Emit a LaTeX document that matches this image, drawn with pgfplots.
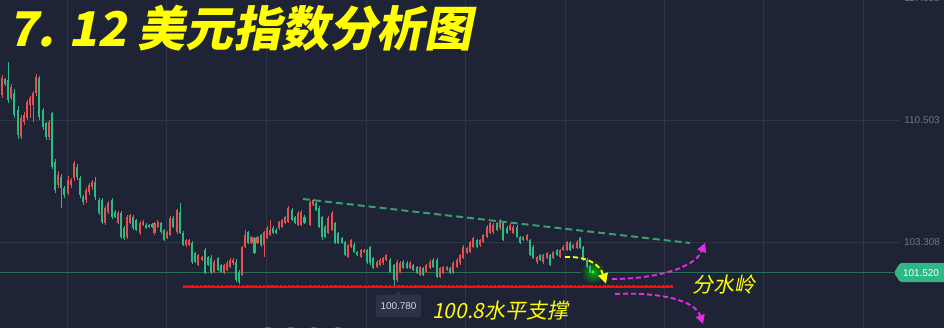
\documentclass[border=0pt]{standalone}
\usepackage{pgfplots}
\pgfplotsset{compat=1.18}
\usepackage{pgfplotstable}
\usetikzlibrary{arrows.meta}
\usepackage{fontspec}
\setmainfont{Liberation Sans}
\newfontfamily\cjk[FakeSlant=0.2]{Noto Sans CJK SC}
\definecolor{bg}{HTML}{1E2436}
\definecolor{gridc}{HTML}{2E3547}
\definecolor{cgreen}{HTML}{2DB984}
\definecolor{cred}{HTML}{E2524E}
\definecolor{trend}{HTML}{38A070}
\definecolor{pline}{HTML}{2A6E5A}
\definecolor{tag}{HTML}{2EB884}
\definecolor{lbl}{HTML}{6E7687}
\definecolor{boxc}{HTML}{2B3348}
\definecolor{magc}{HTML}{EB28EB}
\definecolor{tyel}{HTML}{FFFF00}
\definecolor{supred}{HTML}{FF0A0A}

\pgfplotstableread{
x o h l c
2 111.97 113.15 111.79 112.97
11 111.79 112.60 111.70 112.44
21 109.50 110.80 109.40 110.62
24 110.38 110.97 110.20 110.80
27 110.62 111.70 110.50 111.56
30 111.38 111.90 110.62 111.79
33 111.38 112.20 110.38 112.09
36 112.09 113.20 111.90 113.03
49 109.50 110.50 109.30 110.38
58 106.68 107.50 106.50 107.27
68 106.21 107.20 106.10 106.97
71 106.68 107.10 106.50 106.97
74 107.09 108.10 106.90 107.97
86 105.80 106.50 105.60 106.38
89 106.27 106.80 106.10 106.68
92 106.56 107.00 106.40 106.85
105 104.44 105.45 104.33 105.33
108 105.09 105.75 105.00 105.62
118 104.44 105.12 104.36 105.03
127 103.62 104.90 103.52 104.80
130 104.44 105.00 104.36 104.91
140 103.86 104.55 103.76 104.44
143 104.33 104.62 104.25 104.50
154.5 103.86 104.52 103.76 104.44
157.8 104.21 104.60 104.12 104.50
167 103.56 104.00 103.48 103.91
170 103.74 104.84 103.65 104.74
177 103.91 105.27 103.82 105.21
186 103.15 103.52 103.06 103.44
189 103.15 103.50 103.08 103.44
198 101.97 102.64 101.90 102.56
202 102.27 102.52 102.20 102.44
214 101.56 102.24 101.48 102.15
224 101.50 102.06 101.42 101.97
227 101.68 102.18 101.60 102.09
230 101.86 102.36 101.78 102.27
233 102.09 102.36 102.00 102.27
242 101.38 103.10 101.30 103.03
245 103.03 104.03 102.95 103.74
251.3 103.27 103.70 103.20 103.62
257.6 103.27 103.70 103.18 103.62
264 103.15 104.00 102.44 103.91
267 103.56 104.24 103.48 104.15
270 103.74 104.62 103.66 104.03
279 104.15 104.58 104.06 104.50
282 104.21 104.70 104.12 104.62
285 104.44 104.88 104.36 104.80
288 104.50 105.42 104.42 105.33
298 104.33 105.12 104.24 105.03
301 104.33 105.18 104.24 105.09
310 104.33 105.76 104.24 105.68
313 105.50 105.88 105.42 105.80
328 103.86 104.84 103.78 104.74
332 104.03 105.12 103.95 105.03
348 102.44 103.22 102.36 103.15
351 103.03 103.52 102.96 103.44
361 102.44 102.94 102.36 102.86
364 102.74 102.94 102.66 102.86
377 101.86 102.24 101.78 102.15
380 101.97 102.36 101.90 102.27
383 102.09 102.46 102.00 102.38
386 102.27 102.64 102.20 102.56
397 101.09 102.24 101.00 102.15
400 101.56 102.18 101.48 102.09
410 101.80 102.18 101.72 102.09
420 101.38 101.94 101.30 101.86
426 101.56 102.06 101.48 101.97
430 101.80 102.24 101.72 102.15
440 101.27 101.88 101.18 101.80
443 101.50 101.94 101.42 101.86
447 101.68 101.94 101.60 101.86
453 101.50 102.18 101.42 102.09
457 101.86 102.36 101.78 102.27
460 102.09 102.64 102.00 102.56
463 102.38 103.12 102.30 103.03
467 102.68 103.06 102.60 102.97
470 102.74 103.40 102.66 103.33
473 103.03 103.64 102.95 103.56
480 103.15 103.52 103.06 103.44
483 103.33 103.82 103.24 103.74
487 103.62 104.30 103.54 104.21
490 103.86 104.52 103.78 104.44
493 103.91 104.42 103.82 104.33
500 104.15 104.68 104.06 104.62
510 104.03 104.42 103.95 104.33
513 103.86 104.30 103.78 104.21
523 103.44 103.70 103.36 103.62
527 103.44 103.82 103.36 103.74
537 102.15 102.52 102.06 102.44
543 102.15 102.64 102.06 102.56
547 102.38 102.76 102.30 102.68
553 102.38 102.82 102.30 102.74
560 102.44 102.94 102.36 102.86
563 102.86 103.12 102.78 103.03
567 102.86 103.40 102.78 103.33
573 102.97 103.22 102.90 103.15
577 102.97 103.42 102.90 103.33
}\uptab

\pgfplotstableread{
x o h l c
5 112.91 113.00 112.50 112.62
8 112.85 113.91 111.50 111.68
14 112.09 112.30 110.60 110.80
18 111.09 111.30 109.40 109.62
39 112.97 113.10 110.50 110.68
43 111.09 111.20 109.90 110.09
46 110.32 110.40 109.30 109.50
52 110.91 111.00 107.60 107.74
55 108.03 108.20 106.20 106.38
61 107.15 107.30 105.32 106.50
64 106.50 106.60 105.90 106.09
77 107.74 107.90 107.00 107.15
80 107.09 107.20 105.90 106.09
83 105.97 106.10 105.50 105.68
95 106.85 107.15 105.80 105.97
99 105.80 105.90 104.90 105.03
102 105.80 105.90 104.38 104.50
112 105.80 105.92 104.70 104.80
115 105.09 105.20 104.72 104.80
121 105.03 105.12 103.52 103.62
124 104.15 104.25 103.46 103.56
133 104.80 104.90 104.06 104.15
136 104.62 104.70 103.95 104.03
146 104.33 104.42 104.08 104.15
149 104.33 104.40 104.14 104.21
152 104.38 104.45 104.14 104.21
161 104.44 104.52 103.82 103.91
164 104.03 104.10 103.36 103.44
173 104.74 104.84 104.12 104.21
180 105.09 105.62 103.78 103.86
183 103.86 103.95 103.08 103.15
192 103.27 103.36 102.06 102.15
195 102.68 102.76 102.09 102.15
205 102.86 102.95 101.42 101.50
208 102.44 102.52 101.90 101.97
211 102.38 102.55 101.45 101.56
218 102.38 102.46 101.60 101.68
221 101.97 102.06 101.48 101.56
236 102.15 102.30 100.98 101.09
239 101.56 101.65 100.85 100.97
248 103.91 104.00 103.20 103.27
254.5 103.56 103.64 102.60 102.68
261 103.74 103.82 103.06 103.15
273 104.15 104.24 103.78 103.86
276 104.03 104.12 103.80 103.86
292 105.21 105.30 104.54 104.62
295 104.80 104.88 104.36 104.44
304.5 104.80 104.90 104.36 104.44
316 105.62 105.70 105.14 105.21
319 105.33 105.42 104.12 104.21
322 104.80 104.88 103.44 103.62
325 104.21 104.30 103.54 103.62
335 104.44 104.52 103.18 103.27
338 103.86 103.94 103.18 103.27
342 103.56 103.64 103.20 103.27
345 103.33 103.40 102.48 102.56
354 103.15 103.24 102.66 102.74
357 102.74 102.82 102.48 102.56
367 102.86 102.94 102.06 102.15
370 103.03 103.12 102.00 102.09
373 102.38 102.46 101.72 101.80
390 102.27 102.36 101.48 101.56
394 101.97 102.06 100.78 101.09
403 102.15 102.24 101.72 101.80
407 102.09 102.18 101.72 101.80
413 101.97 102.06 101.60 101.68
417 101.86 101.94 101.42 101.50
423 101.80 101.88 101.30 101.38
433 102.27 102.36 101.78 101.86
437 102.27 102.36 101.18 101.27
450 101.80 101.88 101.42 101.50
477 103.44 103.52 102.95 103.03
497 104.44 104.52 103.95 104.03
503 104.44 104.52 103.36 103.44
507 104.15 104.24 103.78 103.86
517 104.21 104.30 103.54 103.62
520 103.62 103.70 103.18 103.27
530 103.44 103.52 102.48 102.56
533 103.03 103.12 102.30 102.38
540 102.56 102.64 102.18 102.27
550 102.56 102.64 101.90 101.97
557 102.86 102.94 102.48 102.56
570 103.27 103.36 102.78 102.86
580 103.56 103.64 102.90 102.97
583 103.03 103.12 102.18 102.27
587 102.27 102.36 101.78 101.86
590 101.91 101.98 101.48 101.52
}\dntab

\pgfplotsset{
  wick/.style={draw=none, mark=none, forget plot,
    error bars/.cd, y dir=both, y explicit, error mark=none,
    error bar style={draw=#1, line width=0.9bp}},
  body/.style={draw=none, mark=none, forget plot,
    error bars/.cd, y dir=both, y explicit, error mark=none,
    error bar style={draw=#1, line width=2.6bp, line cap=butt}},
}

\begin{document}
\begin{tikzpicture}
\path[use as bounding box] (0,0) rectangle (944bp,328bp);
\clip (0,0) rectangle (944bp,328bp);
\fill[bg] (0,0) rectangle (944bp,328bp);
\begin{axis}[at={(0,0)}, anchor=south west, width=944bp, height=328bp,
  scale only axis, xmin=0, xmax=944, ymin=98.267, ymax=117.561,
  axis lines=none, ticks=none, clip=false, enlargelimits=false]

% grid
\pgfplotsinvokeforeach{67,166,266,366,465,565,664,763,863}{
  \draw[gridc, line width=0.8bp] (axis cs:#1,98.267) -- (axis cs:#1,117.561);
}
\draw[gridc, line width=0.8bp] (axis cs:0,110.503) -- (axis cs:900,110.503);
\draw[gridc, line width=0.8bp] (axis cs:0,103.308) -- (axis cs:900,103.308);
\draw[pline, line width=0.9bp] (axis cs:0,101.52) -- (axis cs:894,101.52);

% glow
\shade[inner color=green!70!black, outer color=bg] (axis cs:593,101.56) circle[radius=12bp];

% candles
\addplot[wick=cred] table[x=x, y expr={(\thisrow{h}+\thisrow{l})/2},
  y error plus expr={(\thisrow{h}-\thisrow{l})/2},
  y error minus expr={(\thisrow{h}-\thisrow{l})/2}] \uptab;
\addplot[body=cred] table[x=x, y expr={(\thisrow{o}+\thisrow{c})/2},
  y error plus expr={max(abs(\thisrow{c}-\thisrow{o})/2,0.03)},
  y error minus expr={max(abs(\thisrow{c}-\thisrow{o})/2,0.03)}] \uptab;
\addplot[wick=cgreen] table[x=x, y expr={(\thisrow{h}+\thisrow{l})/2},
  y error plus expr={(\thisrow{h}-\thisrow{l})/2},
  y error minus expr={(\thisrow{h}-\thisrow{l})/2}] \dntab;
\addplot[body=cgreen] table[x=x, y expr={(\thisrow{o}+\thisrow{c})/2},
  y error plus expr={max(abs(\thisrow{c}-\thisrow{o})/2,0.03)},
  y error minus expr={max(abs(\thisrow{c}-\thisrow{o})/2,0.03)}] \dntab;

\fill[green!80!white] (axis cs:593,101.56) circle[radius=1.6bp];

% trend line
\draw[trend, line width=2bp, dash pattern=on 7bp off 4bp] (axis cs:303,105.855) -- (axis cs:690,103.267);

% support line
\draw[supred, line width=2.2bp] (axis cs:183,100.67) -- (axis cs:673,100.67);
\draw[supred, line width=1.8bp, dash pattern=on 2.6bp off 1.6bp] (axis cs:183,100.77) -- (axis cs:673,100.77);

% yellow arrow
\draw[tyel, line width=1.9bp, dash pattern=on 5bp off 3bp, -{Triangle[length=10bp,width=10bp]}]
  (axis cs:565,102.44) .. controls (axis cs:588,102.50) and (axis cs:600,101.97) .. (axis cs:606,100.88);

% magenta arrows
\draw[magc, line width=1.9bp, dash pattern=on 5bp off 3bp, -{Triangle[length=9bp,width=9bp]}]
  (axis cs:612,101.15) .. controls (axis cs:655,101.15) and (axis cs:695,101.80) .. (axis cs:705,103.27);
\draw[magc, line width=1.9bp, dash pattern=on 5bp off 3bp, -{Triangle[length=9bp,width=9bp]}]
  (axis cs:615,100.27) .. controls (axis cs:660,100.38) and (axis cs:695,99.91) .. (axis cs:703,98.50);

% texts
\node[anchor=base west, inner sep=0, text=tyel, font={\cjk\bfseries\fontsize{48}{50}\selectfont}]
  at (axis cs:8,114.80) {7. 12 美元指数分析图};
\node[anchor=base west, inner sep=0, text=tyel, font={\cjk\fontsize{21}{24}\selectfont}]
  at (axis cs:692,100.38) {分水岭};
\node[anchor=base west, inner sep=0, text=tyel, font={\cjk\fontsize{21}{24}\selectfont}]
  at (axis cs:432,98.80) {100.8水平支撑};

% low label
\fill[boxc, rounded corners=2bp] (axis cs:376,100.21) rectangle (axis cs:421,98.91);
\fill[boxc] (axis cs:395,100.20) -- (axis cs:398.5,100.44) -- (axis cs:402,100.20) -- cycle;
\node[text=white!82!bg, font={\fontsize{10}{12}\selectfont}] at (axis cs:398.5,99.56) {100.780};

% right price labels
\node[text=lbl, font={\fontsize{10}{12}\selectfont}] at (axis cs:922,117.698) {117.698};
\node[text=lbl, font={\fontsize{10}{12}\selectfont}] at (axis cs:922,110.503) {110.503};
\node[text=lbl, font={\fontsize{10}{12}\selectfont}] at (axis cs:922,103.308) {103.308};
\fill[tag, rounded corners=1.5bp] (axis cs:894,101.52) -- (axis cs:900,102.09) -- (axis cs:946,102.09) -- (axis cs:946,100.97) -- (axis cs:900,100.97) -- cycle;
\node[text=white, font={\fontsize{10}{12}\selectfont}] at (axis cs:921,101.52) {101.520};

% bottom toolbar icons
\pgfplotsinvokeforeach{268,291,314,338}{
  \draw[white!25!bg, line width=1bp] (axis cs:#1,97.95) circle[radius=6bp];
}
\end{axis}
\end{tikzpicture}
\end{document}
